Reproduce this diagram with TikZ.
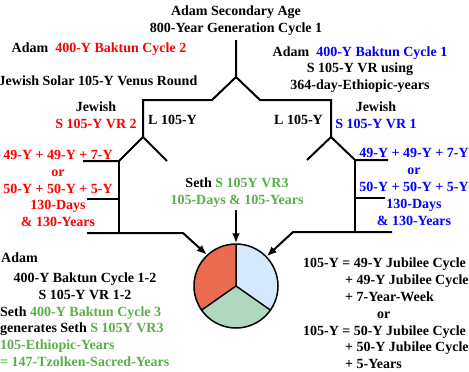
\documentclass[tikz,border=0pt]{standalone}
\usepackage{fontspec}
\setmainfont{Liberation Serif}
\usetikzlibrary{arrows.meta}
\definecolor{tred}{HTML}{FF0000}
\definecolor{tblue}{HTML}{0000FF}
\definecolor{tgreen}{HTML}{5AAE4A}
\definecolor{pred}{HTML}{EA6B50}
\definecolor{pblue}{HTML}{D5E8FC}
\definecolor{pgreen}{HTML}{AFD8BE}
\begin{document}
\begin{tikzpicture}[x=1pt,y=-1pt,
  txt/.style={inner sep=0pt, font=\bfseries\fontsize{14}{16.8}\selectfont, align=center},
  wire/.style={line width=2pt},
  arr/.style={wire, -{Latex[length=10pt,width=8pt]}}]
\useasboundingbox (0,0) rectangle (469,372);
% texts
\node[txt] (title) at (236,20.5) {Adam Secondary Age\\800-Year Generation Cycle 1};
\node[txt, anchor=mid] (adam2) at (99,50) {Adam\ \ \textcolor{tred}{400-Y Baktun Cycle 2}};
\node[txt, anchor=mid] (jsolar) at (98,83) {Jewish Solar 105-Y Venus Round};
\node[txt] (adam1) at (360,69.5) {Adam\ \ \textcolor{tblue}{400-Y Baktun Cycle 1}\\S 105-Y VR using\\364-day-Ethiopic-years};
\node[txt] (jewL) at (96,115) {Jewish\\\textcolor{tred}{S 105-Y VR 2}};
\node[txt, anchor=mid west] (lL) at (148,122) {L 105-Y};
\node[txt, anchor=mid east] (lR) at (323,122) {L 105-Y};
\node[txt] (jewR) at (376,115) {Jewish\\\textcolor{tblue}{S 105-Y VR 1}};
\node[txt, text=tred] (numL) at (58,188.5) {49-Y + 49-Y + 7-Y\\or\\50-Y + 50-Y + 5-Y\\130-Days\\\& 130-Years};
\node[txt, text=tblue] (numR) at (414,187) {49-Y + 49-Y + 7-Y\\or\\50-Y + 50-Y + 5-Y\\130-Days\\\& 130-Years};
\node[txt] (seth) at (237,193) {Seth \textcolor{tgreen}{S 105Y VR3}\\\textcolor{tgreen}{105-Days \& 105-Years}};
\node[txt, anchor=mid west] (adamB) at (1,260) {Adam};
\node[txt] (cycB) at (85,286) {400-Y Baktun Cycle 1-2\\S 105-Y VR 1-2};
\node[txt, align=left, anchor=west] (sethB) at (0,336.5) {Seth \textcolor{tgreen}{400-Y Baktun Cycle 3}\\generates Seth \textcolor{tgreen}{S 105Y VR3}\\\textcolor{tgreen}{105-Ethiopic-Years}\\\textcolor{tgreen}{= 147-Tzolken-Sacred-Years}};
\node[txt, align=left, anchor=west] (jub) at (303,313.5) {105-Y = 49-Y Jubilee Cycle\\\hspace*{42pt}+ 49-Y Jubilee Cycle\\\hspace*{42pt}+ 7-Year-Week\\\hspace*{74pt}or\\105-Y = 50-Y Jubilee Cycle\\\hspace*{42pt}+ 50-Y Jubilee Cycle\\\hspace*{42pt}+ 5-Years};
% coordinates
\coordinate (top) at (236,40);
\coordinate (fork) at (236,77);
\coordinate (lk) at (212,100);
\coordinate (lc) at (143,100);
\coordinate (lf) at (143,137);
\coordinate (rk) at (260,100);
\coordinate (rc) at (331,100);
\coordinate (rf) at (331,137);
\coordinate (la) at (119,161);
\coordinate (lb) at (167,161);
\coordinate (lbot) at (119,233);
\coordinate (l1) at (83,161);
\coordinate (l2a) at (87,199);
\coordinate (l2b) at (119,199);
\coordinate (l3a) at (87,233);
\coordinate (l3b) at (183,233);
\coordinate (ra) at (307,160);
\coordinate (rb) at (355,160);
\coordinate (rbot) at (355,232);
\coordinate (r1) at (388,160);
\coordinate (r2a) at (355,198);
\coordinate (r2b) at (385,198);
\coordinate (r3a) at (392,232);
\coordinate (r3b) at (293,232);
\coordinate (cA) at (236,210);
\coordinate (pc) at (236,286);
% pie
\fill[pred] (pc) -- ++(-90:42) arc[start angle=-90, end angle=-215, radius=42] -- cycle;
\fill[pgreen] (pc) -- ++(-215:42) arc[start angle=-215, end angle=-325, radius=42] -- cycle;
\fill[pblue] (pc) -- ++(-325:42) arc[start angle=-325, end angle=-450, radius=42] -- cycle;
\draw[line width=1.5pt] (pc) -- ++(-90:42) (pc) -- ++(-215:42) (pc) -- ++(-325:42);
\node[circle, draw, line width=1.5pt, minimum size=84pt, inner sep=0pt] (pie) at (pc) {};
% tree
\draw[wire] (top) -- (fork) -- (lk) -- (lc) -- (lf);
\draw[wire] (fork) -- (rk) -- (rc) -- (rf);
\draw[wire] (l1) -- (la) -- (lf) -- (lb);
\draw[wire] (la) -- (lbot);
\draw[wire] (l2a) -- (l2b);
\draw[wire] (ra) -- (rf) -- (rb) -- (r1);
\draw[wire] (rb) -- (rbot);
\draw[wire] (r2a) -- (r2b);
\draw[arr] (l3a) -- (l3b) -- (pie.133);
\draw[arr] (cA) -- (pie.north);
\draw[arr] (r3a) -- (r3b) -- (pie.44);
\end{tikzpicture}
\end{document}
